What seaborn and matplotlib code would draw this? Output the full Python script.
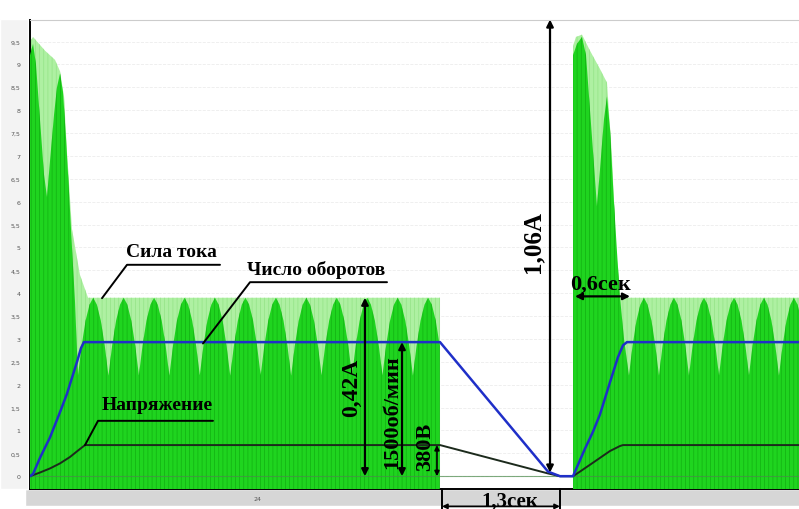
import matplotlib
matplotlib.use("Agg")
import matplotlib.pyplot as plt
import numpy as np
import seaborn as sns
from matplotlib.patches import Rectangle

# time axis in tenths of a second, current / speed / voltage in relative units

# light envelope of the current (start-up transient + steady top)
ENV1_X = [0.0, 0.32, 1.58, 2.63, 3.16, 3.58, 3.89, 4.42, 5.26, 6.11, 43.16]
ENV1_Y = [9.5, 9.6, 9.3, 9.1, 8.85, 8.3, 7.1, 5.4, 4.4, 3.9, 3.9]
ENV2_X = [57.16, 57.47, 58.11, 58.95, 60.0, 60.74, 61.26, 61.68, 62.11, 82.0]
ENV2_Y = [9.4, 9.6, 9.65, 9.3, 8.9, 8.6, 7.0, 5.0, 3.9, 3.9]

# dark current trace during start-up transient
TRANS1_X = [0.0, 0.32, 0.63, 1.05, 1.47, 1.79, 2.11, 2.53, 2.84, 3.16, 3.47,
            3.79, 4.11, 4.42, 4.74]
TRANS1_Y = [9.2, 9.45, 9.0, 7.8, 6.6, 6.1, 6.9, 7.9, 8.5, 8.8, 8.4,
            7.4, 6.2, 5.0, 3.8]
TRANS2_X = [57.16, 57.58, 58.11, 58.53, 58.95, 59.37, 59.68, 60.0, 60.42,
            60.74, 61.05, 61.47, 61.79, 62.11, 62.53]
TRANS2_Y = [9.2, 9.45, 9.6, 9.2, 8.0, 6.8, 5.9, 6.7, 7.8, 8.3, 7.6, 6.0,
            4.9, 3.9, 3.0]

# one steady-state lobe (position as fraction of lobe width, level)
LOBE_FRAC = [0.0, 0.12, 0.25, 0.38, 0.5, 0.62, 0.75, 0.88, 1.0]
LOBE_LEVEL = [2.2, 2.85, 3.4, 3.75, 3.9, 3.75, 3.4, 2.85, 2.2]
LOBES1_START = [5.05, 8.26, 11.46, 14.67, 17.87, 21.08, 24.28, 27.49, 30.69,
                33.90, 37.10, 40.31]
LOBES1_WIDTH = 3.205
LOBES2_START = [63.05, 66.21, 69.37, 72.53, 75.68, 78.84]
LOBES2_WIDTH = 3.158
SEG1_END = 43.16

# speed (Число оборотов)
SPEED_X = [0.0, 0.32, 1.05, 2.11, 3.16, 3.89, 4.42, 4.95, 5.37, 5.68, 43.16,
           54.53, 55.79, 57.16, 57.58, 58.42, 59.26, 60.0, 61.05, 61.89,
           62.42, 62.84, 81.0]
SPEED_Y = [0.0, 0.05, 0.4, 0.85, 1.4, 1.8, 2.15, 2.5, 2.8, 2.93, 2.93,
           0.1, 0.0, 0.0, 0.2, 0.6, 0.97, 1.35, 2.05, 2.6, 2.86, 2.93, 2.93]

# voltage (Напряжение)
VOLT_X = [0.0, 1.05, 2.11, 3.16, 4.21, 5.05, 5.79, 43.16, 54.53, 55.79,
          57.16, 57.89, 58.95, 60.0, 61.05, 62.11, 62.42, 81.0]
VOLT_Y = [0.0, 0.08, 0.17, 0.28, 0.42, 0.56, 0.68, 0.68, 0.06, 0.0,
          0.0, 0.1, 0.25, 0.4, 0.55, 0.66, 0.68, 0.68]

Y_TICKS = [i * 0.5 for i in range(20)]
Y_TICK_LABELS = [("%g" % t).replace(".", ",") for t in Y_TICKS]
X_TICKS = [24]

XMIN, XMAX = 0.0, 80.95
YMIN, YMAX = -0.28, 9.97

DARK_GREEN = "#1fd41f"
LIGHT_GREEN = "#aef0a2"
SERIF = ["Liberation Serif", "DejaVu Serif"]


def lobe_trace(starts, width, end=None):
    xs, ys = [], []
    for s in starts:
        for f, lv in zip(LOBE_FRAC, LOBE_LEVEL):
            xs.append(s + f * width)
            ys.append(lv)
    xs, ys = np.array(xs), np.array(ys)
    if end is not None:
        keep = xs <= end
        xs, ys = xs[keep], ys[keep]
    return xs, ys


def green_fill(ax, x, y, face, hatch_color, z):
    ax.fill_between(x, YMIN, y, facecolor=face, edgecolor=hatch_color,
                    hatch="||||", linewidth=0, zorder=z)


def arrow(ax, x0, y0, x1, y1, style="<|-|>", lw=1.6, ms=10):
    ax.annotate("", xy=(x1, y1), xytext=(x0, y0), annotation_clip=False,
                arrowprops=dict(arrowstyle=style, color="black", lw=lw,
                                mutation_scale=ms, shrinkA=0, shrinkB=0),
                zorder=9)


def label(ax, x, y, text, size, rot=0):
    ax.text(x, y, text, fontsize=size, fontweight="bold", family=SERIF,
            rotation=rot, ha="center", va="center", color="black",
            zorder=10, clip_on=False)


def main():
    sns.set_theme(style="white")
    plt.rcParams["hatch.linewidth"] = 0.5

    fig = plt.figure(figsize=(7.99, 5.10), dpi=100, facecolor="white")
    # grey strip under the plot and pale margin left of it (behind the axes)
    fig.patches.append(Rectangle((25 / 799, 3 / 510), 1, 17 / 510,
                                 transform=fig.transFigure,
                                 facecolor="#d6d6d6", zorder=-2))
    fig.patches.append(Rectangle((0, 20 / 510), 28 / 799, 470 / 510,
                                 transform=fig.transFigure,
                                 facecolor="#f3f3f3", zorder=-2))
    ax = fig.add_axes([30 / 799, 20 / 510, 769 / 799, 469 / 510])
    ax.set_facecolor("white")

    # current: light envelope, then dark lobes
    green_fill(ax, ENV1_X, ENV1_Y, LIGHT_GREEN, "#93e386", 2)
    green_fill(ax, ENV2_X, ENV2_Y, LIGHT_GREEN, "#93e386", 2)

    lx1, ly1 = lobe_trace(LOBES1_START, LOBES1_WIDTH, SEG1_END)
    green_fill(ax, np.r_[TRANS1_X, lx1], np.r_[TRANS1_Y, ly1],
               DARK_GREEN, "#12b012", 3)
    lx2, ly2 = lobe_trace(LOBES2_START, LOBES2_WIDTH)
    green_fill(ax, np.r_[TRANS2_X, lx2], np.r_[TRANS2_Y, ly2],
               DARK_GREEN, "#12b012", 3)

    ax.axhline(0, color="#4a8a4a", lw=0.8, alpha=0.7, zorder=4)

    sns.lineplot(x=VOLT_X, y=VOLT_Y, ax=ax, color="#1c2a1c", lw=1.4,
                 sort=False, estimator=None, zorder=5)
    sns.lineplot(x=SPEED_X, y=SPEED_Y, ax=ax, color="#1f2fc8", lw=1.8,
                 sort=False, estimator=None, zorder=6)

    # labels with underline and leader
    label(ax, 14.84, 4.92, "Сила тока", 14)
    ax.plot([7.58, 10.21, 20.0], [3.89, 4.62, 4.62], color="black", lw=1.4,
            zorder=9)
    label(ax, 30.1, 4.52, "Число оборотов", 14)
    ax.plot([18.21, 23.16, 37.58], [2.9, 4.24, 4.24], color="black", lw=1.4,
            zorder=9)
    label(ax, 13.37, 1.56, "Напряжение", 14)
    ax.plot([5.79, 7.16, 19.26], [0.68, 1.21, 1.21], color="black", lw=1.4,
            zorder=9)

    # measurement arrows
    arrow(ax, 35.26, 0.0, 35.26, 3.9)
    label(ax, 33.9, 1.96, "0,42A", 17, 90)
    arrow(ax, 39.16, 0.0, 39.16, 2.93)
    label(ax, 38.1, 1.43, "1500об/мин", 16, 90)
    arrow(ax, 42.84, 0.0, 42.84, 0.68, ms=7, lw=1.2)
    label(ax, 41.6, 0.66, "380B", 16, 90)
    arrow(ax, 54.74, 0.08, 54.74, 9.98)
    label(ax, 52.95, 5.14, "1,06A", 18, 90)
    arrow(ax, 57.37, 3.93, 63.16, 3.93)
    label(ax, 60.1, 4.22, "0,6сек", 16)

    # 1,3сек bracket below the axis
    for bx in (43.37, 55.79):
        ax.plot([bx, bx], [YMIN, -0.75], color="black", lw=1.4,
                clip_on=False, zorder=9)
    arrow(ax, 43.37, -0.66, 55.79, -0.66, lw=1.3, ms=7)
    label(ax, 50.5, -0.53, "1,3сек", 15)

    ax.set_xlim(XMIN, XMAX)
    ax.set_ylim(YMIN, YMAX)
    ax.set_yticks(Y_TICKS)
    ax.set_yticklabels(Y_TICK_LABELS)
    ax.set_xticks(X_TICKS)
    ax.set_xticklabels([str(t) for t in X_TICKS])
    ax.tick_params(axis="both", length=0, labelsize=4.5, colors="#555555")
    ax.tick_params(axis="y", pad=7)
    ax.tick_params(axis="x", pad=5)
    ax.grid(axis="y", color="#ededed", lw=0.6, ls="--", zorder=0)
    ax.set_xlabel("")
    ax.set_ylabel("")

    for side in ("left", "bottom"):
        ax.spines[side].set_color("black")
        ax.spines[side].set_linewidth(1.4)
    ax.spines["top"].set_color("#cccccc")
    ax.spines["top"].set_linewidth(0.8)
    ax.spines["right"].set_visible(False)

    fig.savefig("out.png", dpi=100, facecolor=fig.get_facecolor())


if __name__ == "__main__":
    main()
